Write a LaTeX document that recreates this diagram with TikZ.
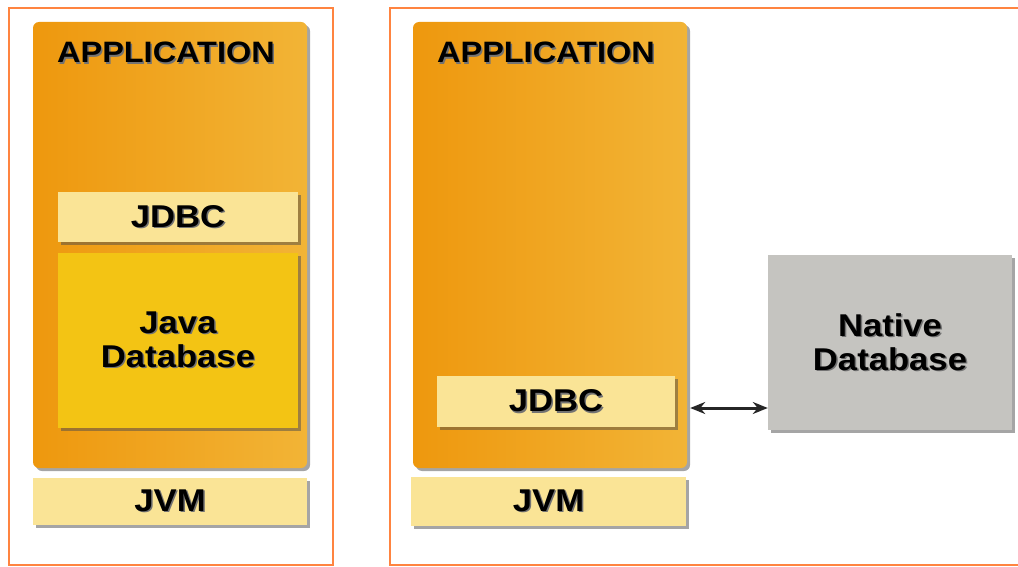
\documentclass[tikz,border=0pt]{standalone}
\usepackage{fontspec}
\usetikzlibrary{arrows.meta,shadows}
\newfontfamily\labfont[FakeStretch=1.1]{Liberation Sans}
\definecolor{frameor}{RGB}{255,132,64}
\definecolor{appleft}{RGB}{238,152,14}
\definecolor{appright}{RGB}{242,180,54}
\definecolor{lightyel}{RGB}{250,228,150}
\definecolor{gold}{RGB}{243,196,20}
\definecolor{natgray}{RGB}{197,196,192}
\newcommand\shtxt[1]{\leavevmode\rlap{\kern1.5pt\raisebox{-1.5pt}{\color{black!55}#1}}#1}
\begin{document}
\begin{tikzpicture}[x=1pt,y=-1pt,
  frame/.style={draw=frameor,line width=2.8pt},
  boxshadow/.style={drop shadow={shadow xshift=3pt,shadow yshift=-3pt,opacity=0.5,fill=black!70}},
  appbox/.style={rectangle,rounded corners=6pt,left color=appleft,right color=appright,
    minimum width=274pt,minimum height=446pt,inner sep=0pt,boxshadow},
  layer/.style={rectangle,fill=lightyel,inner sep=0pt,boxshadow,
    font=\labfont\bfseries\fontsize{31.5}{34}\selectfont},
  dbbox/.style={rectangle,inner sep=0pt,boxshadow,align=center,
    font=\labfont\bfseries\fontsize{31.5}{34}\selectfont},
  apptitle/.style={anchor=base west,inner sep=0pt,font=\labfont\bfseries\fontsize{29.5}{34}\selectfont},
  link/.style={<->,>={Stealth[length=15pt,width=12pt]},line width=3pt,draw=black!85}
]
\useasboundingbox (0,0) rectangle (1018,567);
\begin{scope}
\clip (0,0) rectangle (1018,567);
% frames
\draw[frame] (9,8) rectangle (333,565);
\draw[frame] (390,8) rectangle (1040,565);

% left panel
\node[appbox] (lapp) at (170,245) {};
\node[apptitle] (lapptitle) at (57,63) {\shtxt{APPLICATION}};
\node[layer,minimum width=240pt,minimum height=50pt] (ljdbc) at (178,217) {\shtxt{JDBC}};
\node[dbbox,fill=gold,minimum width=240pt,minimum height=175pt] (ljdb) at (178,340.5) {\shtxt{Java}\\\shtxt{Database}};
\node[layer,minimum width=274pt,minimum height=47pt] (ljvm) at (170,501.5) {\shtxt{JVM}};

% right panel
\node[appbox] (rapp) at (550,245) {};
\node[apptitle] (rapptitle) at (437,63) {\shtxt{APPLICATION}};
\node[layer,minimum width=238pt,minimum height=51pt] (rjdbc) at (556,401.5) {\shtxt{JDBC}};
\node[layer,minimum width=275pt,minimum height=49pt] (rjvm) at (548.5,501.5) {\shtxt{JVM}};
\node[dbbox,fill=natgray,minimum width=244pt,minimum height=175pt] (ndb) at (890,342.5) {\shtxt{Native}\\\shtxt{Database}};

\coordinate (arrowy) at (0,408);
\draw[link] ([xshift=3pt]rapp.east |- arrowy) -- (ndb.west |- arrowy);
\end{scope}
\end{tikzpicture}
\end{document}
